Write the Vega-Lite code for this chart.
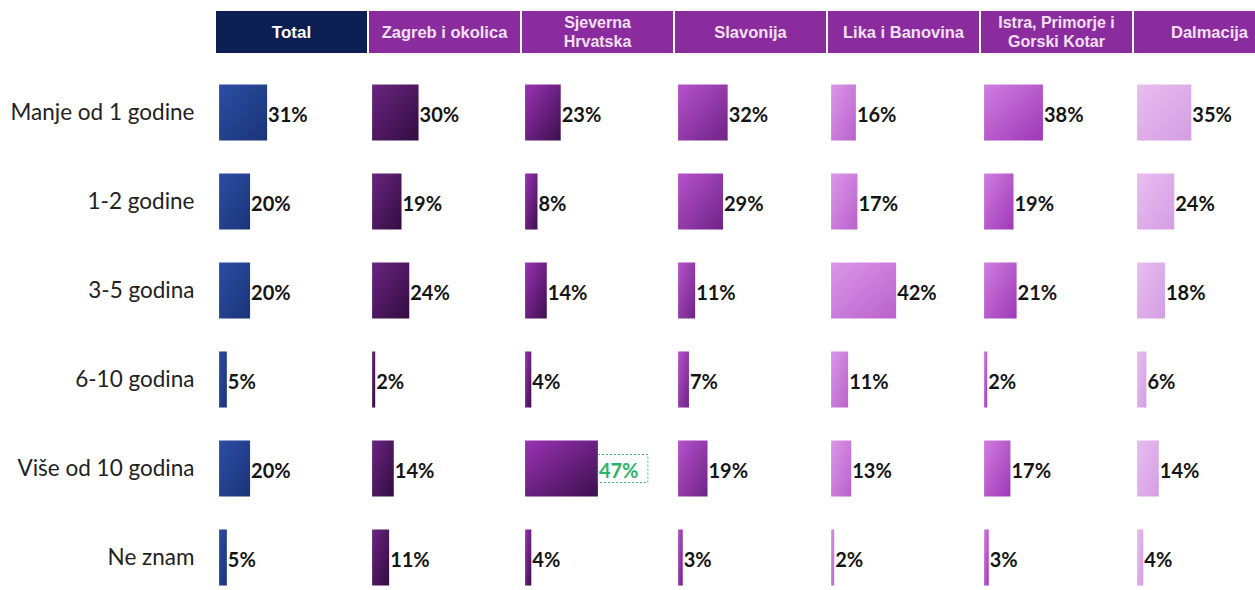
{
  "$schema": "https://vega.github.io/schema/vega-lite/v6.json",
  "background": "white",
  "padding": {"left": 10, "top": 11, "right": 0, "bottom": 0},
  "bounds": "flush",
  "spacing": 15,
  "config": {"view": {"stroke": null}, "font": "Lato"},
  "datasets": {
    "headers": [
      {"region": "Total", "label": "Total"},
      {"region": "Zagreb i okolica", "label": "Zagreb i okolica"},
      {"region": "Sjeverna Hrvatska", "label": "Sjeverna\nHrvatska"},
      {"region": "Slavonija", "label": "Slavonija"},
      {"region": "Lika i Banovina", "label": "Lika i Banovina"},
      {"region": "Istra, Primorje i Gorski Kotar", "label": "Istra, Primorje i\nGorski Kotar"},
      {"region": "Dalmacija", "label": "Dalmacija"}
    ],
    "rows": [
      {"region": "Total", "cat": "Manje od 1 godine", "value": 0.31},
      {"region": "Total", "cat": "1-2 godine", "value": 0.20},
      {"region": "Total", "cat": "3-5 godina", "value": 0.20},
      {"region": "Total", "cat": "6-10 godina", "value": 0.05},
      {"region": "Total", "cat": "Više od 10 godina", "value": 0.20},
      {"region": "Total", "cat": "Ne znam", "value": 0.05},
      {"region": "Zagreb i okolica", "cat": "Manje od 1 godine", "value": 0.30},
      {"region": "Zagreb i okolica", "cat": "1-2 godine", "value": 0.19},
      {"region": "Zagreb i okolica", "cat": "3-5 godina", "value": 0.24},
      {"region": "Zagreb i okolica", "cat": "6-10 godina", "value": 0.02},
      {"region": "Zagreb i okolica", "cat": "Više od 10 godina", "value": 0.14},
      {"region": "Zagreb i okolica", "cat": "Ne znam", "value": 0.11},
      {"region": "Sjeverna Hrvatska", "cat": "Manje od 1 godine", "value": 0.23},
      {"region": "Sjeverna Hrvatska", "cat": "1-2 godine", "value": 0.08},
      {"region": "Sjeverna Hrvatska", "cat": "3-5 godina", "value": 0.14},
      {"region": "Sjeverna Hrvatska", "cat": "6-10 godina", "value": 0.04},
      {"region": "Sjeverna Hrvatska", "cat": "Više od 10 godina", "value": 0.47},
      {"region": "Sjeverna Hrvatska", "cat": "Ne znam", "value": 0.04},
      {"region": "Slavonija", "cat": "Manje od 1 godine", "value": 0.32},
      {"region": "Slavonija", "cat": "1-2 godine", "value": 0.29},
      {"region": "Slavonija", "cat": "3-5 godina", "value": 0.11},
      {"region": "Slavonija", "cat": "6-10 godina", "value": 0.07},
      {"region": "Slavonija", "cat": "Više od 10 godina", "value": 0.19},
      {"region": "Slavonija", "cat": "Ne znam", "value": 0.03},
      {"region": "Lika i Banovina", "cat": "Manje od 1 godine", "value": 0.16},
      {"region": "Lika i Banovina", "cat": "1-2 godine", "value": 0.17},
      {"region": "Lika i Banovina", "cat": "3-5 godina", "value": 0.42},
      {"region": "Lika i Banovina", "cat": "6-10 godina", "value": 0.11},
      {"region": "Lika i Banovina", "cat": "Više od 10 godina", "value": 0.13},
      {"region": "Lika i Banovina", "cat": "Ne znam", "value": 0.02},
      {"region": "Istra, Primorje i Gorski Kotar", "cat": "Manje od 1 godine", "value": 0.38},
      {"region": "Istra, Primorje i Gorski Kotar", "cat": "1-2 godine", "value": 0.19},
      {"region": "Istra, Primorje i Gorski Kotar", "cat": "3-5 godina", "value": 0.21},
      {"region": "Istra, Primorje i Gorski Kotar", "cat": "6-10 godina", "value": 0.02},
      {"region": "Istra, Primorje i Gorski Kotar", "cat": "Više od 10 godina", "value": 0.17},
      {"region": "Istra, Primorje i Gorski Kotar", "cat": "Ne znam", "value": 0.03},
      {"region": "Dalmacija", "cat": "Manje od 1 godine", "value": 0.35},
      {"region": "Dalmacija", "cat": "1-2 godine", "value": 0.24},
      {"region": "Dalmacija", "cat": "3-5 godina", "value": 0.18},
      {"region": "Dalmacija", "cat": "6-10 godina", "value": 0.06},
      {"region": "Dalmacija", "cat": "Više od 10 godina", "value": 0.14},
      {"region": "Dalmacija", "cat": "Ne znam", "value": 0.04}
    ]
  },
  "vconcat": [
    {
      "data": {"name": "headers"},
      "width": 1069,
      "height": 42,
      "encoding": {
        "x": {
          "field": "region", "type": "nominal",
          "sort": ["Total", "Zagreb i okolica", "Sjeverna Hrvatska", "Slavonija", "Lika i Banovina", "Istra, Primorje i Gorski Kotar", "Dalmacija"],
          "axis": null,
          "scale": {"paddingInner": 0.013, "paddingOuter": 0}
        }
      },
      "layer": [
        {
          "mark": {"type": "bar"},
          "encoding": {
            "color": {"condition": {"test": "datum.region == 'Total'", "value": "#0b1f52"}, "value": "#8a2c9e"}
          }
        },
        {
          "transform": [{"filter": "indexof(datum.label, '\\n') < 0"}],
          "mark": {"type": "text", "font": "Liberation Sans", "fontWeight": "bold", "baseline": "middle", "dy": 1},
          "encoding": {
            "text": {"field": "label"},
            "size": {"condition": {"test": "datum.region == 'Total'", "value": 17}, "value": 16.5},
            "color": {"condition": {"test": "datum.region == 'Total'", "value": "#ffffff"}, "value": "#f3e0f6"}
          }
        },
        {
          "transform": [{"filter": "indexof(datum.label, '\\n') >= 0"}],
          "mark": {"type": "text", "font": "Liberation Sans", "fontWeight": "bold", "baseline": "middle", "lineBreak": "\n", "lineHeight": 19, "dy": -9, "fontSize": 16, "color": "#f3e0f6"},
          "encoding": {
            "text": {"field": "label"}
          }
        }
      ]
    },
    {
      "data": {"name": "rows"},
      "facet": {
        "column": {
          "field": "region", "type": "nominal",
          "sort": ["Total", "Zagreb i okolica", "Sjeverna Hrvatska", "Slavonija", "Lika i Banovina", "Istra, Primorje i Gorski Kotar", "Dalmacija"],
          "header": null
        }
      },
      "spacing": {"column": 2},
      "spec": {
        "width": 151,
        "height": 534,
        "encoding": {
          "y": {
            "field": "cat", "type": "nominal",
            "sort": ["Manje od 1 godine", "1-2 godine", "3-5 godina", "6-10 godina", "Više od 10 godina", "Ne znam"],
            "scale": {"paddingInner": 0.37, "paddingOuter": 0.185},
            "axis": {"title": null, "domain": false, "ticks": false, "labelFontSize": 22.5, "labelColor": "#222222", "labelPadding": 22, "labelLimit": 300, "labelFont": "Lato"}
          },
          "x": {"field": "value", "type": "quantitative", "scale": {"domain": [-0.02, 0.955], "zero": false}, "axis": null}
        },
        "layer": [
          {
            "transform": [{"filter": "datum.region == 'Total'"}],
            "mark": {"type": "bar", "color": {"gradient": "linear", "x1": 0, "y1": 0, "x2": 1, "y2": 1, "stops": [{"offset": 0, "color": "#2b4da3"}, {"offset": 1, "color": "#1b3478"}]}}
          },
          {
            "transform": [{"filter": "datum.region == 'Zagreb i okolica'"}],
            "mark": {"type": "bar", "color": {"gradient": "linear", "x1": 0, "y1": 0, "x2": 1, "y2": 1, "stops": [{"offset": 0, "color": "#6a2580"}, {"offset": 1, "color": "#320c40"}]}}
          },
          {
            "transform": [{"filter": "datum.region == 'Sjeverna Hrvatska'"}],
            "mark": {"type": "bar", "color": {"gradient": "linear", "x1": 0, "y1": 0, "x2": 1, "y2": 1, "stops": [{"offset": 0, "color": "#9a32b4"}, {"offset": 1, "color": "#3c0f4e"}]}}
          },
          {
            "transform": [{"filter": "datum.region == 'Slavonija'"}],
            "mark": {"type": "bar", "color": {"gradient": "linear", "x1": 0, "y1": 0, "x2": 1, "y2": 1, "stops": [{"offset": 0, "color": "#b652cc"}, {"offset": 1, "color": "#6e2386"}]}}
          },
          {
            "transform": [{"filter": "datum.region == 'Lika i Banovina'"}],
            "mark": {"type": "bar", "color": {"gradient": "linear", "x1": 0, "y1": 0, "x2": 1, "y2": 1, "stops": [{"offset": 0, "color": "#dc96e8"}, {"offset": 1, "color": "#b862cc"}]}}
          },
          {
            "transform": [{"filter": "datum.region == 'Istra, Primorje i Gorski Kotar'"}],
            "mark": {"type": "bar", "color": {"gradient": "linear", "x1": 0, "y1": 0, "x2": 1, "y2": 1, "stops": [{"offset": 0, "color": "#d07ee0"}, {"offset": 1, "color": "#9d38b6"}]}}
          },
          {
            "transform": [{"filter": "datum.region == 'Dalmacija'"}],
            "mark": {"type": "bar", "color": {"gradient": "linear", "x1": 0, "y1": 0, "x2": 1, "y2": 1, "stops": [{"offset": 0, "color": "#e8bdf0"}, {"offset": 1, "color": "#d49ee2"}]}}
          },
          {
            "transform": [{"filter": "datum.region == 'Sjeverna Hrvatska' && datum.cat == 'Više od 10 godina'"}],
            "mark": {"type": "point", "shape": "M-1,-0.56H1V0.56H-1Z", "size": 2500, "xOffset": 25, "filled": false, "stroke": "#3dbb75", "strokeWidth": 1, "strokeDash": [2, 2], "opacity": 1}
          },
          {
            "mark": {"type": "text", "align": "left", "baseline": "middle", "dx": 1, "dy": 3, "fontSize": 20, "fontWeight": "bold", "font": "Lato"},
            "encoding": {
              "text": {"field": "value", "type": "quantitative", "format": ".0%"},
              "color": {"condition": {"test": "datum.region == 'Sjeverna Hrvatska' && datum.cat == 'Više od 10 godina'", "value": "#2fb26a"}, "value": "#151515"}
            }
          }
        ]
      }
    }
  ]
}
